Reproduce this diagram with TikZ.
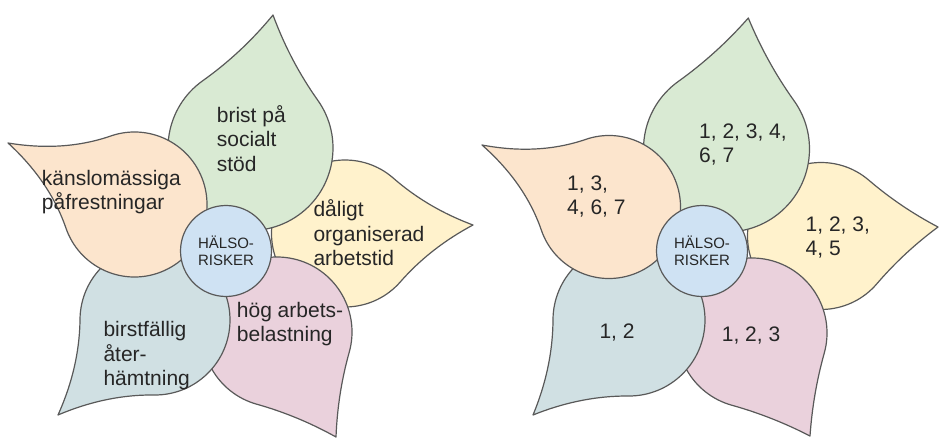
\documentclass[tikz,border=0pt]{standalone}
\usepackage{fontspec}
\setmainfont{Liberation Sans}
\definecolor{cOrange}{HTML}{FCE5CD}
\definecolor{cGreen}{HTML}{D9EAD3}
\definecolor{cYellow}{HTML}{FFF2CC}
\definecolor{cPink}{HTML}{EAD1DC}
\definecolor{cBlue}{HTML}{D0E0E3}
\definecolor{hubblue}{HTML}{CFE2F3}
\definecolor{linegray}{HTML}{595959}
\definecolor{txtgray}{HTML}{262626}
% #1 fill, #2 cx, #3 cy (screen), #4 r, #5 tip x, #6 tip y (screen)
\newcommand\drawpetal[6]{%
  \pgfmathsetmacro\pdx{#5-#2}%
  \pgfmathsetmacro\pdy{#3-#6}%
  \pgfmathsetmacro\prot{atan2(\pdy,\pdx)-45}%
  \pgfmathsetmacro\pR{#4}%
  \pgfmathsetmacro\paR{10*sqrt((\pdx/10)*(\pdx/10)+(\pdy/10)*(\pdy/10))/1.41421356}%
  \pgfmathsetmacro\pcA{\paR/3}%
  \pgfmathsetmacro\pcB{2*\paR/3}%
  \pgfmathsetmacro\pcC{(\paR+2*\pR)/3}%
  \begin{scope}[shift={(#2,-#3)},rotate=\prot]
    \draw[petal,fill=#1] (0,\pR) .. controls (\pcA,\pR) and (\pcB,\pcC) .. (\paR,\paR)
      .. controls (\pcC,\pcB) and (\pR,\pcA) .. (\pR,0)
      arc[start angle=0,end angle=-270,radius=\pR] -- cycle;
  \end{scope}}
\begin{document}
\begin{tikzpicture}[x=1pt,y=1pt,
  petal/.style={draw=linegray,line width=1.2,line join=round},
  lbl/.style={anchor=base west,align=left,inner sep=0,font=\fontsize{21}{24.5}\selectfont,text=txtgray},
  hub/.style={circle,draw=linegray,line width=1.2,fill=hubblue,minimum size=91,inner sep=0,
    align=center,font=\fontsize{15}{16.5}\selectfont,text=txtgray}]
\useasboundingbox[fill=white] (0,0) rectangle (939,-438);
% left flower (anchors are at the baseline of the last line)
\drawpetal{cYellow}{345}{233.5}{73.5}{473}{225}
\drawpetal{cGreen}{250.5}{148}{82.5}{273}{15}
\drawpetal{cPink}{277}{332}{75}{336}{437}
\drawpetal{cBlue}{155}{320}{75}{58}{415}
\drawpetal{cOrange}{134.5}{204.5}{72.5}{8}{143}
\node[hub] (hubL) at (226,-251) {HÄLSO-\\RISKER};
\node[lbl] (tL1) at (216.7,-171.2) {brist på\\socialt\\stöd};
\node[lbl] (tL2) at (41.7,-209.8) {känslomässiga\\påfrestningar};
\node[lbl] (tL3) at (313.3,-265.5) {dåligt\\organiserad\\arbetstid};
\node[lbl] (tL4) at (236.7,-341.5) {hög arbets-\\belastning};
\node[lbl] (tL5) at (103.3,-385.5) {birstfällig\\åter-\\hämtning};
% right flower
\drawpetal{cYellow}{821}{236}{73.5}{938}{227}
\drawpetal{cGreen}{726.5}{149}{83}{748.3}{18}
\drawpetal{cPink}{752}{333}{75}{810}{436}
\drawpetal{cBlue}{629}{320}{76}{533}{415}
\drawpetal{cOrange}{609}{207}{71.5}{482}{145}
\node[hub] (hubR) at (702,-251) {HÄLSO-\\RISKER};
\node[lbl] (tR1) at (699,-162.7) {1, 2, 3, 4,\\6, 7};
\node[lbl] (tR2) at (567,-215) {1, 3,\\4, 6, 7};
\node[lbl] (tR3) at (805.5,-255.7) {1, 2, 3,\\4, 5};
\node[lbl] (tR4) at (599.3,-338.3) {1, 2};
\node[lbl] (tR5) at (721.7,-341.7) {1, 2, 3};
\end{tikzpicture}
\end{document}
